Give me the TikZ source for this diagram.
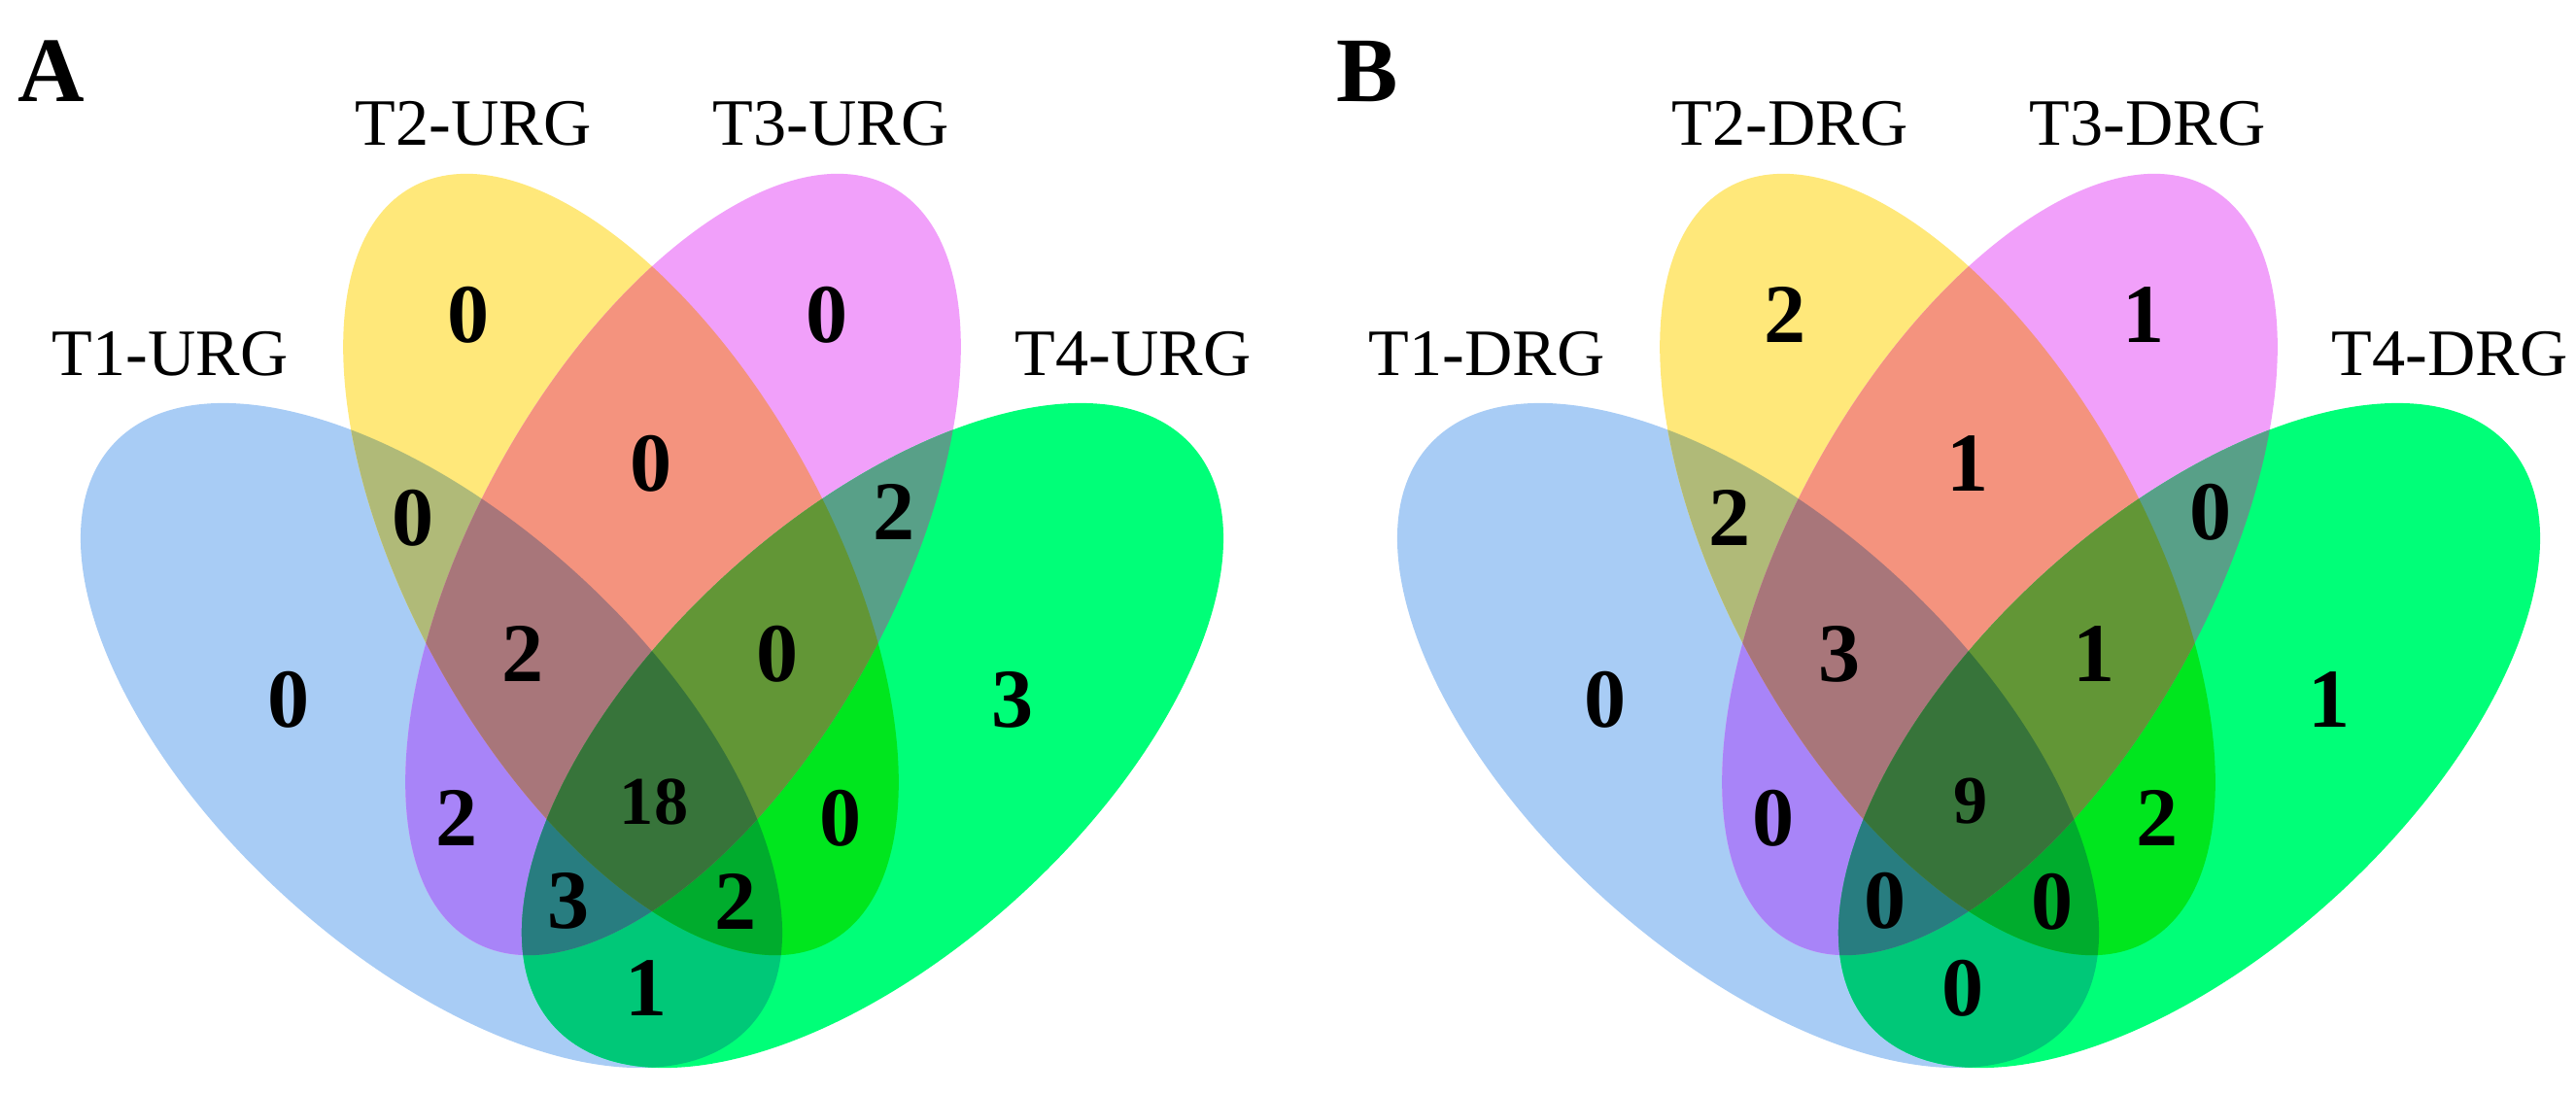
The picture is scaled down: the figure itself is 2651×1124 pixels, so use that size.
\documentclass[tikz,border=0pt]{standalone}
\usepackage{fontspec}
\setmainfont{Liberation Serif}
\usepackage{tikz}
\usepackage{xcolor}
\definecolor{vennOne}{HTML}{A8CCF5}
\definecolor{vennTwo}{HTML}{FFE87A}
\definecolor{vennThree}{HTML}{F1A0FA}
\definecolor{vennFour}{HTML}{00FF78}
\definecolor{vennOneTwo}{HTML}{B0BA78}
\definecolor{vennOneThree}{HTML}{A884F8}
\definecolor{vennOneFour}{HTML}{00C878}
\definecolor{vennTwoThree}{HTML}{F4937E}
\definecolor{vennTwoFour}{HTML}{00E61E}
\definecolor{vennThreeFour}{HTML}{58A088}
\definecolor{vennOneTwoThree}{HTML}{A8767A}
\definecolor{vennOneTwoFour}{HTML}{00AC2D}
\definecolor{vennOneThreeFour}{HTML}{287D80}
\definecolor{vennTwoThreeFour}{HTML}{629636}
\definecolor{vennAll}{HTML}{37743A}
\tikzset{
  vennellone/.style={rotate around={-42.4:(444,757)}},
  vennelltwo/.style={rotate around={-61:(639,581)}},
  vennellthree/.style={rotate around={61:(703,581)}},
  vennellfour/.style={rotate around={42.4:(898,757)}},
  vennpanel/.style={font=\bfseries\fontsize{27}{30}\selectfont, inner sep=0pt},
  venntag/.style={font=\fontsize{19.4}{23}\selectfont, inner sep=0pt},
  vennnum/.style={font=\bfseries\fontsize{24.5}{28}\selectfont, inner sep=0pt},
  vennmid/.style={font=\bfseries\fontsize{20}{24}\selectfont, inner sep=0pt}
}
\newcommand{\vennpathone}{(444,757) ellipse [x radius=444, y radius=224]}
\newcommand{\vennpathtwo}{(639,581) ellipse [x radius=444, y radius=215]}
\newcommand{\vennpaththree}{(703,581) ellipse [x radius=444, y radius=215]}
\newcommand{\vennpathfour}{(898,757) ellipse [x radius=444, y radius=224]}

\begin{document}
\begin{tikzpicture}[x=0.01cm,y=-0.01cm]
  \useasboundingbox (0,0) rectangle (2651,1124);

  % the four sets, then every overlap painted on top
  \foreach \px in {0,1355} {
    \begin{scope}[shift={(\px,0)}]
      \fill[vennellone, fill=vennOne] \vennpathone;
      \fill[vennelltwo, fill=vennTwo] \vennpathtwo;
      \fill[vennellthree, fill=vennThree] \vennpaththree;
      \fill[vennellfour, fill=vennFour] \vennpathfour;

      \begin{scope}\clip[vennellone] \vennpathone;
        \fill[vennelltwo, fill=vennOneTwo] \vennpathtwo;
        \fill[vennellthree, fill=vennOneThree] \vennpaththree;
        \fill[vennellfour, fill=vennOneFour] \vennpathfour;
      \end{scope}
      \begin{scope}\clip[vennelltwo] \vennpathtwo;
        \fill[vennellthree, fill=vennTwoThree] \vennpaththree;
        \fill[vennellfour, fill=vennTwoFour] \vennpathfour;
      \end{scope}
      \begin{scope}\clip[vennellthree] \vennpaththree;
        \fill[vennellfour, fill=vennThreeFour] \vennpathfour;
      \end{scope}

      \begin{scope}\clip[vennellone] \vennpathone; \clip[vennelltwo] \vennpathtwo;
        \fill[vennellthree, fill=vennOneTwoThree] \vennpaththree;
        \fill[vennellfour, fill=vennOneTwoFour] \vennpathfour;
      \end{scope}
      \begin{scope}\clip[vennellone] \vennpathone; \clip[vennellthree] \vennpaththree;
        \fill[vennellfour, fill=vennOneThreeFour] \vennpathfour;
      \end{scope}
      \begin{scope}\clip[vennelltwo] \vennpathtwo; \clip[vennellthree] \vennpaththree;
        \fill[vennellfour, fill=vennTwoThreeFour] \vennpathfour;
      \end{scope}
      \begin{scope}\clip[vennellone] \vennpathone; \clip[vennelltwo] \vennpathtwo;
        \clip[vennellthree] \vennpaththree;
        \fill[vennellfour, fill=vennAll] \vennpathfour;
      \end{scope}
    \end{scope}
  }

  % panel A
  \node[vennpanel] (panA) at (53,73) {A};
  \node[venntag] (tagA1) at (175,364) {T1-URG};
  \node[venntag] (tagA2) at (487,127) {T2-URG};
  \node[venntag] (tagA3) at (855,127) {T3-URG};
  \node[venntag] (tagA4) at (1166,364) {T4-URG};

  \node[vennnum] (nA1) at (297,720) {0};
  \node[vennnum] (nA2) at (482,324) {0};
  \node[vennnum] (nA3) at (851,324) {0};
  \node[vennnum] (nA4) at (1042,720) {3};
  \node[vennnum] (nA12) at (425,533) {0};
  \node[vennnum] (nA23) at (670,477) {0};
  \node[vennnum] (nA34) at (920,527) {2};
  \node[vennnum] (nA123) at (538,673) {2};
  \node[vennnum] (nA234) at (800,673) {0};
  \node[vennnum] (nA13) at (470,842) {2};
  \node[vennmid] (nA1234) at (673,825) {18};
  \node[vennnum] (nA24) at (865,842) {0};
  \node[vennnum] (nA134) at (585,927) {3};
  \node[vennnum] (nA124) at (757,928) {2};
  \node[vennnum] (nA14) at (665,1017) {1};

  % panel B
  \node[vennpanel] (panB) at (1407,74) {B};
  \node[venntag] (tagB1) at (1530,364) {T1-DRG};
  \node[venntag] (tagB2) at (1842,127) {T2-DRG};
  \node[venntag] (tagB3) at (2210,127) {T3-DRG};
  \node[venntag] (tagB4) at (2521,364) {T4-DRG};

  \node[vennnum] (nB1) at (1652,720) {0};
  \node[vennnum] (nB2) at (1837,324) {2};
  \node[vennnum] (nB3) at (2206,324) {1};
  \node[vennnum] (nB4) at (2397,720) {1};
  \node[vennnum] (nB12) at (1780,533) {2};
  \node[vennnum] (nB23) at (2025,477) {1};
  \node[vennnum] (nB34) at (2275,527) {0};
  \node[vennnum] (nB123) at (1893,673) {3};
  \node[vennnum] (nB234) at (2155,673) {1};
  \node[vennnum] (nB13) at (1825,842) {0};
  \node[vennmid] (nB1234) at (2028,825) {9};
  \node[vennnum] (nB24) at (2220,842) {2};
  \node[vennnum] (nB134) at (1940,927) {0};
  \node[vennnum] (nB124) at (2112,928) {0};
  \node[vennnum] (nB14) at (2020,1017) {0};
\end{tikzpicture}
\end{document}
